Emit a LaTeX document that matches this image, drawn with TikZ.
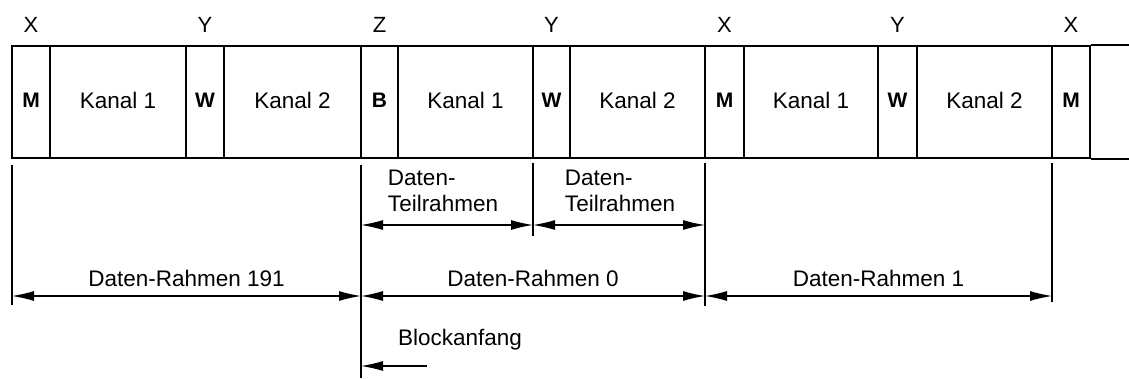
\documentclass[tikz,border=0pt]{standalone}
\usepackage{fontspec}
\setmainfont{Liberation Sans}
\usetikzlibrary{arrows.meta}
\tikzset{
  field/.style={draw, line width=1.9pt, inner sep=0pt, minimum height=112pt, anchor=center},
  toplabel/.style={inner sep=0pt, font=\fontsize{22}{24}\selectfont},
  txt/.style={inner sep=0pt, font=\fontsize{22.5}{26}\selectfont},
  bold/.style={inner sep=0pt, font=\fontsize{21}{24}\selectfont\bfseries},
  tick/.style={line width=1.6pt},
  head/.style={Latex[length=22pt,width=10pt]},
  dim/.style={line width=1.2pt, {Latex[length=22pt,width=10pt]}-{Latex[length=22pt,width=10pt]}},
  dimleft/.style={line width=1.2pt, {Latex[length=22pt,width=10pt]}-},
}
\begin{document}
\begin{tikzpicture}[x=1pt, y=-1pt]
\useasboundingbox (0,0) rectangle (1129,379);

% frame of the serial data stream: fields left to right
\foreach \a/\b/\t/\s/\n in {
  12/50/M/bold/f1, 50/186/Kanal 1/txt/f2, 186/224/W/bold/f3, 224/361/Kanal 2/txt/f4,
  361/398/B/bold/f5, 398/533/Kanal 1/txt/f6, 533/570/W/bold/f7, 570/705/Kanal 2/txt/f8,
  705/744/M/bold/f9, 744/878/Kanal 1/txt/f10, 878/917/W/bold/f11, 917/1052/Kanal 2/txt/f12,
  1052/1090/M/bold/f13}
{
  \node[field, minimum width={(\b-\a)*1pt}] (\n) at ({(\a+\b)/2},102) {};
  \node[\s] (\n t) at ({(\a+\b)/2},100) {\t};
}
% open continuation on the right
\coordinate (open) at (1129,102);
\draw[line width=1.9pt] (f13.north east) -- (f13.north east -| open);
\draw[line width=1.9pt] (f13.south east) -- (f13.south east -| open);

% sync word labels above the frame
\node[toplabel] (lx1) at (f1.center  |- 0,25) {X};
\node[toplabel] (ly1) at (f3.center  |- 0,25) {Y};
\node[toplabel] (lz)  at (f5.center  |- 0,25) {Z};
\node[toplabel] (ly2) at (f7.center  |- 0,25) {Y};
\node[toplabel] (lx2) at (f9.center  |- 0,25) {X};
\node[toplabel] (ly3) at (f11.center |- 0,25) {Y};
\node[toplabel] (lx3) at (f13.center |- 0,25) {X};

% extension lines below the frame
\coordinate (e0a) at (12,165);   \coordinate (e0b) at (12,305);
\coordinate (e1a) at (361,165);  \coordinate (e1b) at (361,378);
\coordinate (e2a) at (533,163);  \coordinate (e2b) at (533,236);
\coordinate (e3a) at (705,163);  \coordinate (e3b) at (705,306);
\coordinate (e4a) at (1052,163); \coordinate (e4b) at (1052,302);
\foreach \i in {0,...,4} { \draw[tick] (e\i a) -- (e\i b); }

% rows of the dimension arrows
\coordinate (rowT) at (0,225);
\coordinate (rowR) at (0,296);
\coordinate (rowB) at (0,366);
\coordinate (bend) at (427,366);

% data subframes
\draw[dim] (e1a |- rowT) -- (e2a |- rowT);
\draw[dim] (e2a |- rowT) -- (e3a |- rowT);
\node[txt, align=left] (st1) at (443,191) {Daten-\\Teilrahmen};
\node[txt, align=left] (st2) at (620,191) {Daten-\\Teilrahmen};

% data frames
\draw[dim] (e0a |- rowR) -- (e1a |- rowR);
\draw[dim] (e1a |- rowR) -- (e3a |- rowR);
\draw[dim] (e3a |- rowR) -- (e4a |- rowR);
\node[txt] (dr191) at (186.5,278) {Daten-Rahmen 191};
\node[txt] (dr0)   at (533,278)   {Daten-Rahmen 0};
\node[txt] (dr1)   at (878.5,278) {Daten-Rahmen 1};

% start of block
\draw[dimleft] (e1a |- rowB) -- (bend);
\node[txt] (blk) at (460,340) {Blockanfang};
\end{tikzpicture}
\end{document}
